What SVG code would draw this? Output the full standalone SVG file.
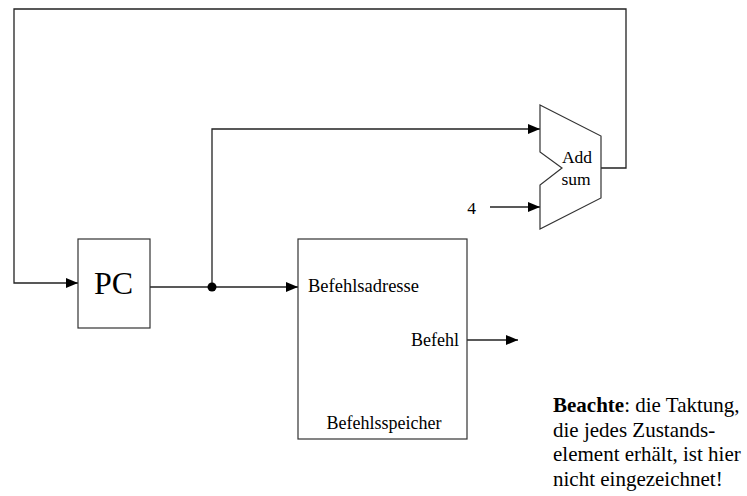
<svg xmlns="http://www.w3.org/2000/svg" width="747" height="496" viewBox="0 0 747 496" font-family="'Liberation Serif', 'Times New Roman', serif">
<style>
.ln{fill:none;stroke:#222;stroke-width:1.3}
.bx{fill:#fff;stroke:#333;stroke-width:1.2}
.t{font-family:'Liberation Serif','Times New Roman',serif;fill:#000}
</style>
<defs>
<marker id="ah" markerWidth="12" markerHeight="10" refX="12" refY="5" orient="auto" markerUnits="userSpaceOnUse">
<path d="M0,0 L12,5 L0,10 Z" fill="#000"/>
</marker>
</defs>
<rect width="747" height="496" fill="#fff"/>
<g id="connectors">
<path class="ln" d="M601,168 H626 V9 H14 V283 H78" marker-end="url(#ah)"/>
<path class="ln" d="M150,287 H298" marker-end="url(#ah)"/>
<path class="ln" d="M212,287 V129 H540" marker-end="url(#ah)"/>
<path class="ln" d="M490,207 H540" marker-end="url(#ah)"/>
<path class="ln" d="M467,340 H518" marker-end="url(#ah)"/>
<circle cx="212" cy="287" r="4.5" fill="#000"/>
</g>
<g id="pc">
<rect class="bx" x="78" y="239" width="72" height="89"/>
<text class="t" x="113.5" y="294" font-size="32" text-anchor="middle">PC</text>
</g>
<g id="alu">
<path class="bx" d="M540,105 L601,136 V198 L540,229 V185 L562,168 L540,152 Z"/>
<text class="t" x="577" y="163" font-size="17.5" text-anchor="middle">Add</text>
<text class="t" x="576" y="185" font-size="17.5" text-anchor="middle">sum</text>
</g>
<g id="four">
<text class="t" x="471.5" y="214" font-size="17.5" text-anchor="middle">4</text>
</g>
<g id="speicher">
<rect class="bx" x="298" y="239" width="169" height="200"/>
<text class="t" x="308" y="292" font-size="18.5">Befehlsadresse</text>
<text class="t" x="459" y="346" font-size="18" text-anchor="end">Befehl</text>
<text class="t" x="384" y="429" font-size="18" text-anchor="middle">Befehlsspeicher</text>
</g>
<g id="note">
<text class="t" x="553" y="412" font-size="21"><tspan font-weight="bold">Beachte</tspan>: die Taktung,</text>
<text class="t" x="553" y="437" font-size="21">die jedes Zustands-</text>
<text class="t" x="553" y="461" font-size="21">element erhält, ist hier</text>
<text class="t" x="553" y="486" font-size="21">nicht eingezeichnet!</text>
</g>
</svg>
